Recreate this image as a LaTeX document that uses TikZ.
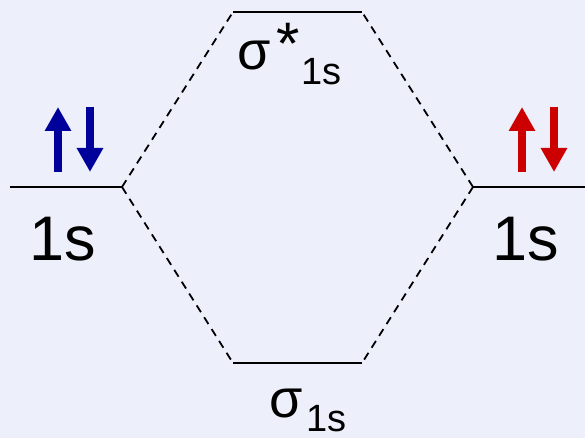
\documentclass[tikz,border=0pt]{standalone}
\usepackage{fontspec}
\setmainfont{Liberation Sans}
\usetikzlibrary{arrows.meta}
\definecolor{bgc}{HTML}{EDF0FA}
\definecolor{eblue}{HTML}{00009A}
\definecolor{ered}{HTML}{CC0000}
\tikzset{
  level/.style={line width=2pt, black},
  corr/.style={line width=1.8pt, black, dash pattern=on 8pt off 6pt},
  spin/.style={line width=8pt, -{Triangle[width=25pt,length=24pt]}},
  big/.style={inner sep=0pt, anchor=base west, font=\fontsize{63}{64}\selectfont},
  sig/.style={inner sep=0pt, anchor=base west, font=\fontsize{54}{56}\selectfont},
  ast/.style={inner sep=0pt, anchor=base west, font=\fontsize{60}{60}\selectfont},
  sub/.style={inner sep=0pt, anchor=base west, font=\fontsize{38}{40}\selectfont},
}
\begin{document}
\begin{tikzpicture}[x=1pt,y=-1pt]
\fill[bgc] (0,0) rectangle (585,438);
\useasboundingbox (0,0) rectangle (585,438);
% levels
\coordinate (L1) at (10,187); \coordinate (L2) at (122,187);
\coordinate (R1) at (473,187); \coordinate (R2) at (585,187);
\coordinate (T1) at (233,12); \coordinate (T2) at (362,12);
\coordinate (B1) at (233,363); \coordinate (B2) at (362,363);
\draw[level] (L1) -- (L2);
\draw[level] (R1) -- (R2);
\draw[level] (T1) -- (T2);
\draw[level] (B1) -- (B2);
\draw[corr] (L2) -- (T1);
\draw[corr] (L2) -- (B1);
\draw[corr] (R1) -- (T2);
\draw[corr] (R1) -- (B2);
% electrons
\coordinate (lu0) at (58,172); \coordinate (lu1) at (58,107);
\coordinate (ld0) at (90,107); \coordinate (ld1) at (90,172);
\coordinate (ru0) at (522,172); \coordinate (ru1) at (522,107);
\coordinate (rd0) at (554,107); \coordinate (rd1) at (554,172);
\draw[spin, eblue] (lu0) -- (lu1);
\draw[spin, eblue] (ld0) -- (ld1);
\draw[spin, ered] (ru0) -- (ru1);
\draw[spin, ered] (rd0) -- (rd1);
% labels
\node[big] (l1s) at (29,260) {1s};
\node[big] (r1s) at (492,260) {1s};
\node[sig] (ts) at (237,70) {σ};
\node[ast] (tstar) at (276,65) {*};
\node[sub] (tsub) at (301,85) {1s};
\node[sig] (bs) at (269,417) {σ};
\node[sub] (bsub) at (306,431) {1s};
\end{tikzpicture}
\end{document}
